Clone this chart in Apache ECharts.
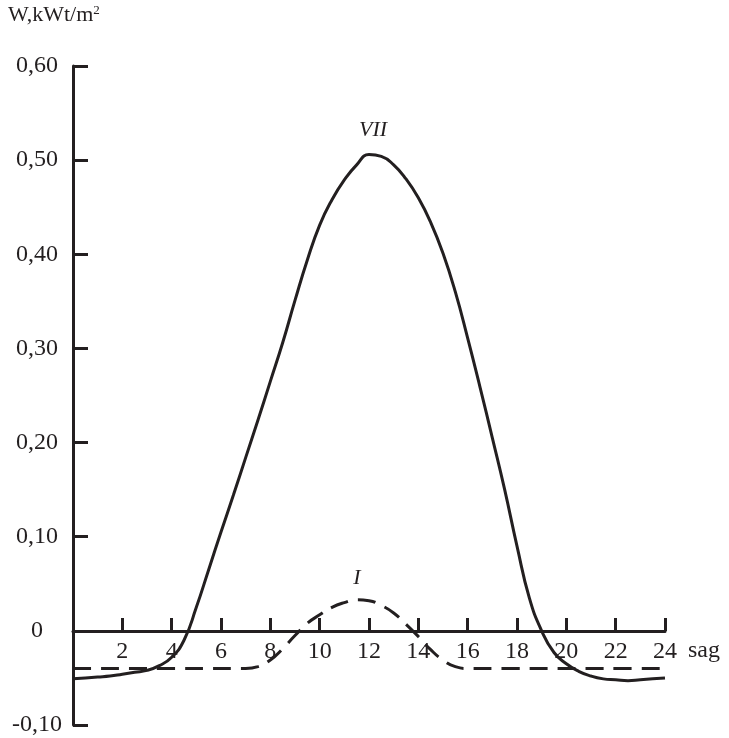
<!DOCTYPE html>
<html lang="en">
<head>
    <meta charset="UTF-8">
    <title>W, kWt/m2</title>
    <script src="https://cdn.jsdelivr.net/npm/echarts@6/dist/echarts.min.js"></script>
</head>
<body style="margin:0;width:729px;height:738px;background:#fff">
    <div id="container" style="width:729px;height:738px"></div>
</body>
<script>
    // half-hour readings
    var hours = [0, 0.5, 1, 1.5, 2, 2.5, 3, 3.5, 4, 4.5, 5, 5.5, 6, 6.5, 7, 7.5, 8, 8.5, 9, 9.5, 10, 10.5, 11, 11.5,
                 12, 12.5, 13, 13.5, 14, 14.5, 15, 15.5, 16, 16.5, 17, 17.5, 18, 18.5, 19, 19.5, 20, 20.5, 21, 21.5, 22, 22.5, 23, 23.5, 24];

    // month VII (solid)
    var valuesVII = [-0.051, -0.050, -0.049, -0.048, -0.046, -0.044, -0.042, -0.037, -0.028, -0.010, 0.025, 0.065,
                     0.105, 0.144, 0.184, 0.224, 0.265, 0.306, 0.351, 0.394, 0.431, 0.458, 0.479, 0.495,
                     0.506, 0.504, 0.495, 0.480, 0.460, 0.434, 0.401, 0.360, 0.311, 0.259, 0.205, 0.150,
                     0.090, 0.035, 0.000, -0.023, -0.035, -0.043, -0.048, -0.051, -0.052, -0.053, -0.052, -0.051, -0.050];

    // month I (dashed)
    var valuesI = [-0.040, -0.040, -0.040, -0.040, -0.040, -0.040, -0.040, -0.040, -0.040, -0.040, -0.040, -0.040,
                   -0.040, -0.040, -0.040, -0.038, -0.031, -0.019, -0.005, 0.008, 0.017, 0.025, 0.030, 0.033,
                   0.032, 0.027, 0.019, 0.007, -0.006, -0.020, -0.031, -0.038, -0.040, -0.040, -0.040, -0.040,
                   -0.040, -0.040, -0.040, -0.040, -0.040, -0.040, -0.040, -0.040, -0.040, -0.040, -0.040, -0.040, -0.040];

    var xTicks = [2, 4, 6, 8, 10, 12, 14, 16, 18, 20, 22, 24];

    function pairs(xs, ys) {
        var out = [];
        for (var i = 0; i < xs.length; i++) out.push([xs[i], ys[i]]);
        return out;
    }

    var ink = '#231f20';
    var font = "'Liberation Serif', 'Times New Roman', serif";

    var dom = document.getElementById("container");
    var myChart = echarts.init(dom);

    var option = {
        animation: false,
        grid: { left: 73, right: 64, top: 66, bottom: 13, containLabel: false, outerBoundsMode: 'none' },
        xAxis: {
            type: 'value',
            min: 0,
            max: 24,
            interval: 2,
            position: 'bottom',
            offset: -94,
            axisLine: { onZero: false, lineStyle: { color: ink, width: 3 } },
            axisTick: { inside: true, length: 13, lineStyle: { color: ink, width: 3 } },
            axisLabel: {
                margin: 9,
                fontFamily: font,
                fontSize: 24,
                color: ink,
                formatter: function (v) { return xTicks.indexOf(v) >= 0 ? String(v) : ''; }
            },
            splitLine: { show: false }
        },
        yAxis: {
            type: 'value',
            min: -0.1,
            max: 0.6,
            interval: 0.1,
            axisLine: { onZero: false, lineStyle: { color: ink, width: 3 } },
            axisTick: { inside: true, length: 15, lineStyle: { color: ink, width: 3 } },
            axisLabel: {
                margin: 36,
                align: 'center',
                fontFamily: font,
                fontSize: 24,
                color: ink,
                formatter: function (v) {
                    var r = Math.round(v * 100) / 100;
                    if (r === 0) return '0';
                    return r.toFixed(2).replace('.', ',');
                }
            },
            splitLine: { show: false }
        },
        graphic: [
            {
                type: 'text', left: 8, top: 4,
                style: {
                    text: '{a|W,kWt/m}{s|2}',
                    rich: {
                        a: { fontFamily: font, fontSize: 22, fill: ink },
                        s: { fontFamily: font, fontSize: 13, fill: ink, verticalAlign: 'top', padding: [0, 0, 10, 0] }
                    }
                }
            },
            {
                type: 'text', x: 688, y: 651,
                style: { text: 'sag', fontFamily: font, fontSize: 24, fill: ink, verticalAlign: 'middle' }
            },
            {
                type: 'text', x: 373, y: 130,
                style: { text: 'VII', fontFamily: font, fontStyle: 'italic', fontSize: 22, fill: ink, align: 'center', verticalAlign: 'middle' }
            },
            {
                type: 'text', x: 357, y: 578,
                style: { text: 'I', fontFamily: font, fontStyle: 'italic', fontSize: 22, fill: ink, align: 'center', verticalAlign: 'middle' }
            }
        ],
        series: [
            {
                type: 'line',
                data: pairs(hours, valuesVII),
                smooth: 0.5,
                showSymbol: false,
                lineStyle: { color: ink, width: 3 }
            },
            {
                type: 'line',
                data: pairs(hours, valuesI),
                smooth: 0.5,
                showSymbol: false,
                lineStyle: { color: ink, width: 3, type: [18, 10] }
            }
        ]
    };
    myChart.setOption(option, true);
</script>
</html>
